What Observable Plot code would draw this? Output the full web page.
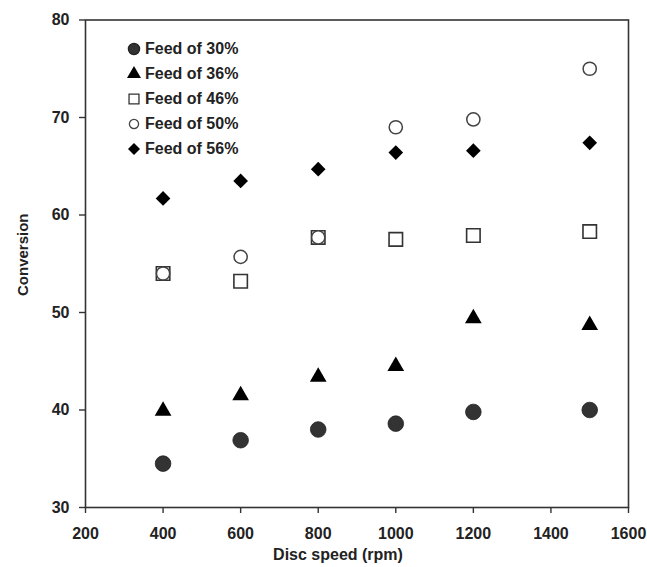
<!DOCTYPE html>
<html>
<head>
<meta charset="utf-8">
<script src="https://cdn.jsdelivr.net/npm/d3@7"></script>
<script src="https://cdn.jsdelivr.net/npm/@observablehq/plot@0.6"></script>
<style>
  html, body { margin: 0; padding: 0; background: #fff; }
  #chart { position: relative; width: 647px; height: 567px; font-family: "Liberation Sans", Arial, sans-serif; }
  #legend { position: absolute; left: 125px; top: 36px; font: bold 16px "Liberation Sans", Arial, sans-serif; color: #222; }
  #legend .row { display: flex; align-items: center; height: 25.2px; }
  #legend svg { width: 18px; height: 18px; margin-right: 2px; }
</style>
</head>
<body>
<div id="chart"><div id="legend"></div></div>
<script>
// ---- data ----
const discSpeed = [400, 600, 800, 1000, 1200, 1500];
const feed30 = [34.5, 36.9, 38.0, 38.6, 39.8, 40.0];
const feed36 = [39.9, 41.5, 43.4, 44.5, 49.4, 48.7];
const feed46 = [54.0, 53.2, 57.7, 57.5, 57.9, 58.3];
const feed50 = [54.0, 55.7, 57.7, 69.0, 69.8, 75.0];
const feed56 = [61.7, 63.5, 64.7, 66.4, 66.6, 67.4];
const seriesNames = ["Feed of 30%", "Feed of 36%", "Feed of 46%", "Feed of 50%", "Feed of 56%"];
const xTicks = [200, 400, 600, 800, 1000, 1200, 1400, 1600];
const yTicks = [30, 40, 50, 60, 70, 80];
const xLabel = "Disc speed (rpm)";
const yLabel = "Conversion";

// ---- styles per series ----
const styles = [
  {symbol: "circle", fill: "#333", stroke: "#222", strokeWidth: 0.8, r: 7.8, lr: 5.6},
  {symbol: "triangle", fill: "#000", stroke: "none", strokeWidth: 0, r: 6.2, lr: 5.2},
  {symbol: "square", fill: "#fff", stroke: "#333", strokeWidth: 1.6, r: 7.6, lr: 5.6},
  {symbol: "circle", fill: "#fff", stroke: "#444", strokeWidth: 1.5, r: 6.6, lr: 4.6},
  {symbol: "diamond2", fill: "#000", stroke: "none", strokeWidth: 0, r: 6.6, lr: 5.4}
];
const seriesValues = [feed30, feed36, feed46, feed50, feed56];
const rows = [];
seriesValues.forEach((vals, si) => vals.forEach((v, i) => rows.push({series: seriesNames[si], si, x: discSpeed[i], y: v})));

const dotMarks = styles.map((s, si) => Plot.dot(rows.filter(d => d.si === si), {
  x: "x", y: "y", symbol: () => s.symbol, r: s.r, fill: s.fill, stroke: s.stroke, strokeWidth: s.strokeWidth
}));

const chart = Plot.plot({
  width: 647,
  height: 567,
  marginLeft: 85,
  marginRight: 19,
  marginTop: 19.5,
  marginBottom: 60,
  style: {fontFamily: "'Liberation Sans', Arial, sans-serif", fontWeight: "bold", fontSize: "16px", color: "#222", background: "#fff"},
  symbol: {type: "identity"},
  x: {domain: [200, 1600]},
  y: {domain: [30, 80]},
  marks: [
    Plot.axisX({ticks: xTicks, tickSize: 6, tickPadding: 14, label: null, tickFormat: d => String(d), stroke: "#333", strokeWidth: 1.4}),
    Plot.axisY({ticks: yTicks, tickSize: 6, tickPadding: 10, label: null, tickFormat: d => String(d), stroke: "#333", strokeWidth: 1.4}),
    Plot.frame({stroke: "#333", strokeWidth: 1.6}),
    ...dotMarks,
    Plot.text([xLabel], {text: d => d, frameAnchor: "bottom", textAnchor: "middle", lineAnchor: "middle", dx: -19, dy: 47, fontSize: 16, fontWeight: "bold"}),
    Plot.text([yLabel], {text: d => d, frameAnchor: "left", textAnchor: "middle", lineAnchor: "middle", rotate: -90, dx: -62, dy: -9, fontSize: 15, fontWeight: "bold"})
  ]
});
document.getElementById("chart").prepend(chart);

// ---- legend ----
const legend = d3.select("#legend");
const symMap = {circle: d3.symbolCircle, triangle: d3.symbolTriangle, square: d3.symbolSquare, diamond2: d3.symbolDiamond2};
seriesNames.forEach((name, i) => {
  const s = styles[i];
  const row = legend.append("div").attr("class", "row");
  const svg = row.append("svg").attr("viewBox", "-9 -9 18 18");
  svg.append("path")
    .attr("d", d3.symbol(symMap[s.symbol], Math.PI * s.lr * s.lr)())
    .attr("fill", s.fill).attr("stroke", s.stroke).attr("stroke-width", s.strokeWidth ? 1.3 : 0);
  row.append("span").text(name);
});
</script>
</body>
</html>
